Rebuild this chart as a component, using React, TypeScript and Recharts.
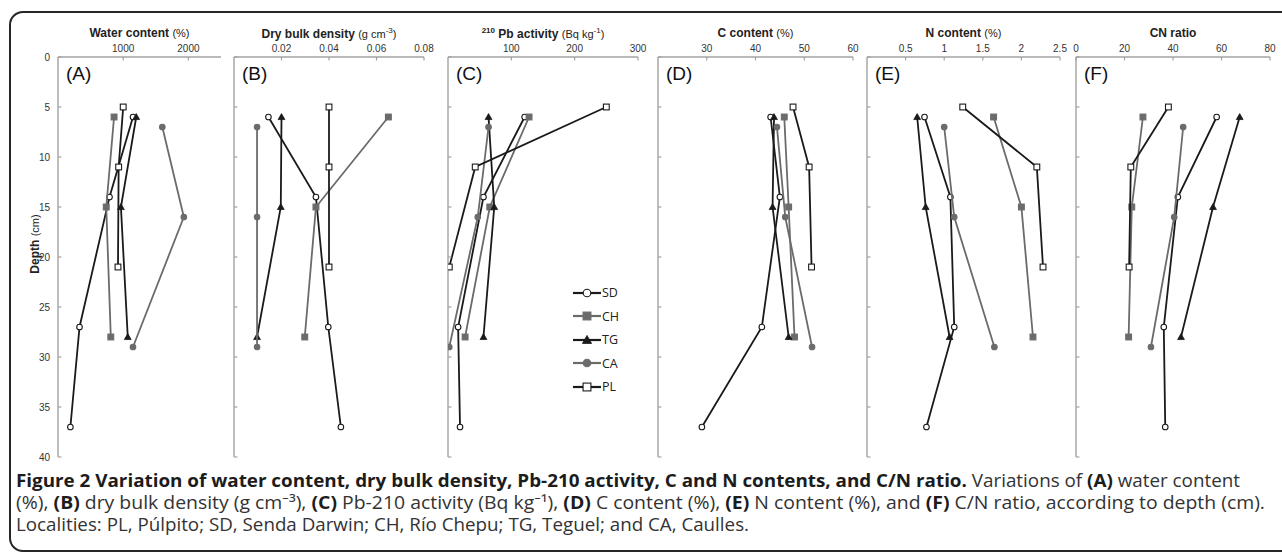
import React from 'react';
import { Legend, Scatter, ScatterChart, XAxis, YAxis } from 'recharts';

// sampling depth (cm) of each core
const depthSD = [6, 14, 27, 37];
const depthCH = [6, 15, 28];
const depthTG = [6, 15, 28];
const depthCA = [7, 16, 29];
const depthPL = [5, 11, 21];

const depthTicks = [0, 5, 10, 15, 20, 25, 30, 35, 40];

// (A) water content (%)
const waterContent = {
  SD: [1150, 790, 330, 190],
  CH: [860, 740, 810],
  TG: [1200, 965, 1070],
  CA: [1600, 1930, 1150],
  PL: [1000, 930, 920],
};
// (B) dry bulk density (g cm-3)
const bulkDensity = {
  SD: [0.0145, 0.0345, 0.0397, 0.045],
  CH: [0.065, 0.0345, 0.0298],
  TG: [0.02, 0.0197, 0.0097],
  CA: [0.0097, 0.0097, 0.0097],
  PL: [0.04, 0.04, 0.04],
};
// (C) 210Pb activity (Bq kg-1)
const pbActivity = {
  SD: [121, 56, 16, 19],
  CH: [128, 66, 27],
  TG: [64, 73, 56],
  CA: [64, 47, 2],
  PL: [250, 43, 2],
};
// (D) C content (%)
const carbonContent = {
  SD: [43.1, 45, 41.3, 29],
  CH: [45.9, 46.8, 48],
  TG: [43.8, 43.5, 46.8],
  CA: [44.4, 46.1, 51.6],
  PL: [47.7, 51, 51.5],
};
// (E) N content (%)
const nitrogenContent = {
  SD: [0.745, 1.08, 1.13, 0.77],
  CH: [1.64, 2.0, 2.15],
  TG: [0.65, 0.76, 1.07],
  CA: [1.0, 1.13, 1.65],
  PL: [1.24, 2.2, 2.28],
};
// (F) CN ratio
const cnRatio = {
  SD: [58, 42, 36.2, 36.8],
  CH: [27.6, 23, 21.7],
  TG: [67.5, 56.5, 43.3],
  CA: [44.2, 40.5, 30.9],
  PL: [38.1, 22.6, 21.9],
};

const sites = ['SD', 'CH', 'TG', 'CA', 'PL'] as const;
type Site = (typeof sites)[number];

const siteDepths: Record<Site, number[]> = {
  SD: depthSD,
  CH: depthCH,
  TG: depthTG,
  CA: depthCA,
  PL: depthPL,
};

const DARK = '#1a1a1a';
const GREY = '#6b6b6b';
const AXIS = '#a3a3a3';

const siteStyle: Record<Site, { line: string; marker: string; fill: string; stroke: string }> = {
  SD: { line: DARK, marker: 'circle', fill: '#fff', stroke: DARK },
  CH: { line: GREY, marker: 'square', fill: GREY, stroke: GREY },
  TG: { line: DARK, marker: 'triangle', fill: DARK, stroke: DARK },
  CA: { line: GREY, marker: 'circle', fill: GREY, stroke: GREY },
  PL: { line: DARK, marker: 'square', fill: '#fff', stroke: DARK },
};

const PLOT_TOP = 57;
const PLOT_BOTTOM = 457;
const AXIS_FONT = 'Arial, "Liberation Sans", sans-serif';

function drawMarker(site: Site, cx: number, cy: number, s = 1) {
  const st = siteStyle[site];
  if (st.marker === 'circle') {
    return <circle cx={cx} cy={cy} r={2.8 * s} fill={st.fill} stroke={st.stroke} strokeWidth={1.1} />;
  }
  if (st.marker === 'square') {
    const h = 2.9 * s;
    return <rect x={cx - h} y={cy - h} width={2 * h} height={2 * h} fill={st.fill} stroke={st.stroke} strokeWidth={1.1} />;
  }
  const h = 3.4 * s;
  return (
    <polygon
      points={`${cx},${cy - h} ${cx + h},${cy + h * 0.75} ${cx - h},${cy + h * 0.75}`}
      fill={st.fill}
      stroke={st.stroke}
      strokeWidth={0.8}
    />
  );
}

interface Panel {
  key: string;
  letter: string;
  title: React.ReactNode;
  values: Record<Site, number[]>;
  domain: [number, number];
  ticks: number[];
  plotLeft: number;
  plotRight: number;
}

const unit = { fontWeight: 400, fontSize: 11 };

const panels: Panel[] = [
  {
    key: 'water',
    letter: '(A)',
    title: (
      <>
        <b>Water content</b> <span style={unit}>(%)</span>
      </>
    ),
    values: waterContent,
    domain: [0, 2500],
    ticks: [1000, 2000],
    plotLeft: 58,
    plotRight: 221,
  },
  {
    key: 'density',
    letter: '(B)',
    title: (
      <>
        <b>Dry bulk density</b>{' '}
        <span style={unit}>
          (g cm<sup style={{ fontSize: 8 }}>-3</sup>)
        </span>
      </>
    ),
    values: bulkDensity,
    domain: [0, 0.08],
    ticks: [0.02, 0.04, 0.06, 0.08],
    plotLeft: 234,
    plotRight: 424,
  },
  {
    key: 'pb',
    letter: '(C)',
    title: (
      <>
        <b>
          <sup style={{ fontSize: 8 }}>210</sup> Pb activity
        </b>{' '}
        <span style={unit}>
          (Bq kg<sup style={{ fontSize: 8 }}>-1</sup>)
        </span>
      </>
    ),
    values: pbActivity,
    domain: [0, 300],
    ticks: [100, 200, 300],
    plotLeft: 448,
    plotRight: 638,
  },
  {
    key: 'carbon',
    letter: '(D)',
    title: (
      <>
        <b>C content</b> <span style={unit}>(%)</span>
      </>
    ),
    values: carbonContent,
    domain: [20, 60],
    ticks: [30, 40, 50, 60],
    plotLeft: 658,
    plotRight: 853,
  },
  {
    key: 'nitrogen',
    letter: '(E)',
    title: (
      <>
        <b>N content</b> <span style={unit}>(%)</span>
      </>
    ),
    values: nitrogenContent,
    domain: [0, 2.5],
    ticks: [0.5, 1, 1.5, 2, 2.5],
    plotLeft: 867,
    plotRight: 1060,
  },
  {
    key: 'cn',
    letter: '(F)',
    title: <b>CN ratio</b>,
    values: cnRatio,
    domain: [0, 80],
    ticks: [0, 20, 40, 60, 80],
    plotLeft: 1076,
    plotRight: 1270,
  },
];

const TopTick = (props: any) => {
  const { x, payload } = props;
  return (
    <g>
      <line x1={x} x2={x} y1={PLOT_TOP} y2={PLOT_TOP + 3.5} stroke={AXIS} strokeWidth={1.2} />
      <text x={x} y={PLOT_TOP - 5} textAnchor="middle" fontSize={10} fill="#333" fontFamily={AXIS_FONT}>
        {String(payload.value)}
      </text>
    </g>
  );
};

const makeLeftTick = (axisX: number, showLabel: boolean) => (props: any) => {
  const { y, payload } = props;
  return (
    <g>
      <line x1={axisX} x2={axisX + 3.5} y1={y} y2={y} stroke={AXIS} strokeWidth={1.2} />
      {showLabel && (
        <text x={axisX - 8} y={y + 3.5} textAnchor="end" fontSize={10} fill="#333" fontFamily={AXIS_FONT}>
          {String(payload.value)}
        </text>
      )}
    </g>
  );
};

const LegendContent = (props: any) => {
  const payload = [...(props.payload || [])].sort(
    (a: any, b: any) => sites.indexOf(a.value) - sites.indexOf(b.value)
  );
  return (
    <div style={{ display: 'flex', flexDirection: 'column' }}>
      {payload.map((entry: any) => {
        const site = entry.value as Site;
        return (
          <div key={site} style={{ display: 'flex', alignItems: 'center', height: 23.5 }}>
            <svg width={30} height={14}>
              <line x1={1} x2={29} y1={7} y2={7} stroke={siteStyle[site].line} strokeWidth={2.2} />
              {drawMarker(site, 15, 7, 1.35)}
            </svg>
            <span style={{ fontFamily: '"Open Sans", sans-serif', fontSize: 12.5, color: '#222' }}>{site}</span>
          </div>
        );
      })}
    </div>
  );
};

const RIGHT_PAD = 24;

function PanelChart({ panel, first }: { panel: Panel; first: boolean }) {
  const yWidth = first ? 50 : 4;
  const width = yWidth + (panel.plotRight - panel.plotLeft) + RIGHT_PAD;
  const left = panel.plotLeft - yWidth;
  const leftTick = makeLeftTick(yWidth, first);
  return (
    <div style={{ position: 'absolute', left, top: 0 }}>
      <ScatterChart
        width={width}
        height={PLOT_BOTTOM + 5}
        margin={{ top: PLOT_TOP - 20, right: RIGHT_PAD, bottom: 5, left: 0 }}
        style={{ overflow: 'visible' }}
      >
        <XAxis
          type="number"
          dataKey="value"
          orientation="top"
          height={20}
          domain={panel.domain}
          ticks={panel.ticks}
          allowDataOverflow
          axisLine={{ stroke: AXIS, strokeWidth: 1.4 }}
          tickLine={false}
          tick={TopTick}
          interval={0}
        />
        <YAxis
          type="number"
          dataKey="depth"
          reversed
          width={yWidth}
          domain={[0, 40]}
          ticks={depthTicks}
          allowDataOverflow
          axisLine={{ stroke: AXIS, strokeWidth: 1.4 }}
          tickLine={false}
          tick={leftTick}
          interval={0}
        />
        {sites.map((site) => (
          <Scatter
            key={site}
            name={site}
            data={siteDepths[site].map((d, i) => ({ depth: d, value: panel.values[site][i] }))}
            fill={siteStyle[site].fill}
            line={{ stroke: siteStyle[site].line, strokeWidth: 1.8 }}
            lineJointType="linear"
            shape={(p: any) => drawMarker(site, p.cx, p.cy)}
            isAnimationActive={false}
          />
        ))}
        {panel.key === 'pb' && (
          <Legend
            layout="vertical"
            align="center"
            verticalAlign="middle"
            content={LegendContent}
            wrapperStyle={{ left: 572 - left, top: 281, width: 60 }}
          />
        )}
      </ScatterChart>
    </div>
  );
}

const capFont = '"Open Sans", "Noto Sans", sans-serif';

const B = ({ children }: { children: React.ReactNode }) => (
  <tspan fontWeight={700} fill="#1c1c1c">
    {children}
  </tspan>
);

export default function App() {
  return (
    <div
      style={{
        position: 'absolute',
        left: 0,
        top: 0,
        width: 1282,
        height: 555,
        overflow: 'hidden',
        background: '#fff',
      }}
    >
      <div
        style={{
          position: 'absolute',
          left: 9,
          top: 11,
          width: 1300,
          height: 537,
          border: '2px solid #262626',
          borderRadius: 14,
        }}
      />

      {panels.map((p, i) => (
        <PanelChart key={p.key} panel={p} first={i === 0} />
      ))}

      {panels.map((p) => (
        <div
          key={p.key + '-title'}
          style={{
            position: 'absolute',
            left: p.plotLeft - 40,
            width: p.plotRight - p.plotLeft + 80,
            top: 26,
            textAlign: 'center',
            fontFamily: AXIS_FONT,
            fontSize: 12,
            color: '#222',
            whiteSpace: 'nowrap',
          }}
        >
          {p.title}
        </div>
      ))}

      {panels.map((p) => (
        <div
          key={p.key + '-letter'}
          style={{
            position: 'absolute',
            left: p.plotLeft + 8,
            top: 63,
            fontFamily: AXIS_FONT,
            fontSize: 19,
            color: '#111',
          }}
        >
          {p.letter}
        </div>
      ))}

      <div
        style={{
          position: 'absolute',
          left: 35 - 60,
          top: 245 - 8,
          width: 120,
          textAlign: 'center',
          transform: 'rotate(-90deg)',
          fontFamily: AXIS_FONT,
          fontSize: 12,
          color: '#222',
          whiteSpace: 'nowrap',
        }}
      >
        <b>Depth</b> <span style={unit}>(cm)</span>
      </div>

      <svg width={1282} height={555} style={{ position: 'absolute', left: 0, top: 0, pointerEvents: 'none' }}>
        <g fontFamily={capFont} fontSize={18} fill="#333">
          <text x={16} y={487} textLength={1224} lengthAdjust="spacingAndGlyphs">
            <B>Figure 2 Variation of water content, dry bulk density, Pb-210 activity, C and N contents, and C/N ratio.</B>
            <tspan> Variations of </tspan>
            <B>(A)</B>
            <tspan> water content</tspan>
          </text>
          <text x={16} y={509} textLength={1249} lengthAdjust="spacingAndGlyphs">
            <tspan>(%), </tspan>
            <B>(B)</B>
            <tspan> dry bulk density (g cm⁻³), </tspan>
            <B>(C)</B>
            <tspan> Pb-210 activity (Bq kg⁻¹), </tspan>
            <B>(D)</B>
            <tspan> C content (%), </tspan>
            <B>(E)</B>
            <tspan> N content (%), and </tspan>
            <B>(F)</B>
            <tspan> C/N ratio, according to depth (cm).</tspan>
          </text>
          <text x={16} y={531} textLength={733} lengthAdjust="spacingAndGlyphs">
            Localities: PL, Púlpito; SD, Senda Darwin; CH, Río Chepu; TG, Teguel; and CA, Caulles.
          </text>
        </g>
      </svg>
    </div>
  );
}
